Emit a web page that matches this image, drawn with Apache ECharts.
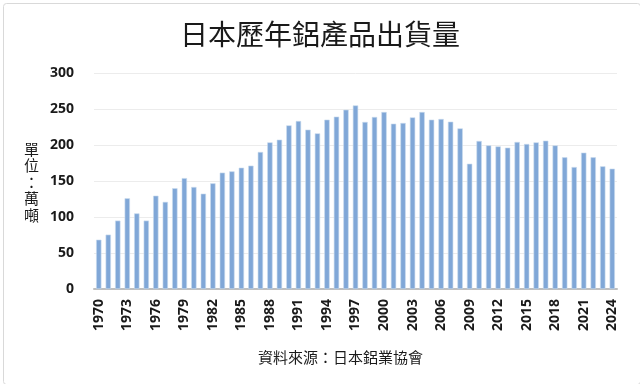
<!DOCTYPE html>
<html><head><meta charset="utf-8">
<script src="https://cdn.jsdelivr.net/npm/echarts@6/dist/echarts.min.js"></script>
<style>html,body{margin:0;padding:0;background:#fff}#c{width:640px;height:384px}</style>
</head><body><div id="c"></div>
<script>
var years = [];
for (var y = 1970; y <= 2024; y++) years.push(String(y));
var shipments = [68.5, 75.5, 95, 126, 105, 95, 129.6, 121, 140, 154,
  141.7, 132.4, 146.8, 161.6, 163.4, 168.5, 171.3, 190.3, 203.7, 207.4,
  227.3, 233.3, 221.3, 216.2, 235.2, 239.4, 249, 255, 232, 238.9,
  245.8, 229.6, 230.6, 238.4, 245.8, 235.2, 236.1, 232.4, 223.1, 174,
  205.6, 199.5, 198.1, 196.3, 204.2, 201.4, 203.7, 206, 199.5, 182.9,
  169.4, 189.4, 182.9, 170.4, 167.1];
var titleText = '日本歷年鋁產品出貨量';
var unitText = '單位：萬噸';
var sourceText = '資料來源：日本鋁業協會';

var chart = echarts.init(document.getElementById('c'), null, {renderer: 'canvas'});
chart.setOption({
  animation: false,
  backgroundColor: '#ffffff',
  title: {
    text: titleText, left: 'center', top: 15,
    textStyle: {fontFamily: 'Noto Sans CJK TC', fontWeight: 'normal', fontSize: 28, color: '#1a1a1a'}
  },
  graphic: [
    {type: 'rect', left: 1, top: 1, shape: {width: 637, height: 381, r: 3},
     style: {fill: 'none', stroke: '#d9d9d9', lineWidth: 1}, silent: true, z: -1},
    {type: 'text', left: 24, top: 141,
     style: {text: unitText.split('').join('\n'), font: '15px "Noto Sans CJK TC"', fill: '#1a1a1a', lineHeight: 16.5}},
    {type: 'text', left: 258, top: 350,
     style: {text: sourceText, font: '15px "Noto Sans CJK TC"', fill: '#1a1a1a'}}
  ],
  grid: {left: 94, right: 23, top: 73, bottom: 95, containLabel: false},
  xAxis: {
    type: 'category', data: years,
    axisLine: {lineStyle: {color: '#bfbfbf', width: 2}},
    axisTick: {show: false},
    axisLabel: {interval: 2, rotate: 90, margin: 10, color: '#1a1a1a',
      fontFamily: 'Open Sans', fontWeight: 'bold', fontSize: 14}
  },
  yAxis: {
    type: 'value', min: 0, max: 300, interval: 50,
    axisLine: {show: false}, axisTick: {show: false},
    splitLine: {lineStyle: {color: '#ececec', width: 1}},
    axisLabel: {margin: 20, color: '#1a1a1a', fontFamily: 'Open Sans', fontWeight: 'bold', fontSize: 14}
  },
  series: [{
    type: 'bar', data: shipments, barWidth: '56%',
    itemStyle: {color: '#80a7d7', borderColor: '#c9dbef', borderWidth: 0.6}
  }]
});
</script></body></html>
